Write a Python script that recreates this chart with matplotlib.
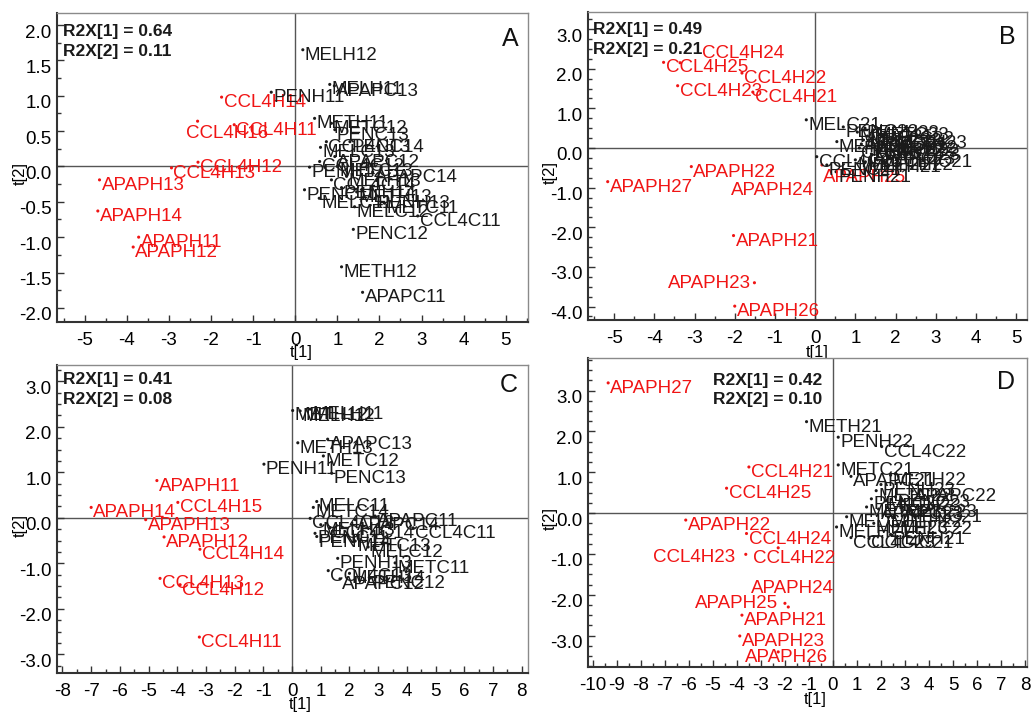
import matplotlib
matplotlib.use('Agg')
import matplotlib.pyplot as plt
from matplotlib.ticker import MultipleLocator
from matplotlib.transforms import ScaledTranslation

plt.rcParams['font.family'] = ['Liberation Sans', 'DejaVu Sans']
plt.rcParams['axes.unicode_minus'] = False

# ---- Panel A : study 1, scores t[1] / t[2]
a_names = ['CCL4H14', 'CCL4H16', 'CCL4H11', 'CCL4H12', 'CCL4H13',
           'APAPH13', 'APAPH14', 'APAPH11', 'APAPH12',
           'MELH12', 'PENH11', 'MELH11', 'APAPC13', 'METH11', 'METC12',
           'PENC13', 'CCL4C13', 'MELC13', 'APAPC12', 'CCL4C12', 'PENH12',
           'APAPC14', 'CCL4C14', 'MELH13', 'PENC11', 'METH13', 'MELC11',
           'PENH13', 'METC11', 'MELC12', 'CCL4C11', 'PENC12', 'METH12',
           'APAPC11', 'PENH14', 'METC13', 'PENC14']
a_t1 = [-1.75, -2.32, -1.45, -2.31, -2.94,
        -4.65, -4.69, -3.72, -3.85,
        0.18, -0.57, 0.82, 0.93, 0.46, 0.86,
        0.94, 0.74, 0.60, 0.94, 0.58, 0.34,
        1.84, 0.86, 1.22, 0.22, 1.46, 0.57,
        1.90, 2.12, 1.41, 2.91, 1.38, 1.10,
        1.60, 1.10, 1.00, 1.30]
a_t2 = [0.98, 0.64, 0.59, 0.06, -0.02,
        -0.19, -0.63, -1.00, -1.14,
        1.65, 1.05, 1.16, 1.14, 0.68, 0.61,
        0.52, 0.35, 0.27, 0.14, 0.07, -0.01,
        -0.08, -0.19, -0.14, -0.33, -0.36, -0.45,
        -0.45, -0.52, -0.57, -0.70, -0.89, -1.42,
        -1.78, -0.30, 0.00, 0.35]

# ---- Panel B : study 2
b_names = ['CCL4H24', 'CCL4H25', 'CCL4H22', 'CCL4H23', 'CCL4H21',
           'APAPH22', 'APAPH27', 'APAPH24', 'APAPH21', 'APAPH23',
           'APAPH26', 'APAPH25',
           'MELC21', 'PENC22', 'METC22', 'CCL4C23', 'PENC21', 'PENH23',
           'MELH22', 'CCL4C21', 'PENH21', 'APAPC21', 'APAPC22', 'APAPC23',
           'CCL4C22', 'MELC22', 'MELC23', 'MELH21', 'MELH23', 'METC21',
           'METC23', 'METH21', 'METH22', 'METH23', 'PENC23', 'PENH22']
b_t1 = [-3.36, -3.77, -1.82, -3.42, -1.55,
        -3.08, -5.16, -1.09, -2.03, -1.51,
        -2.00, 0.17,
        -0.22, 0.70, 0.54, 0.04, 0.29, 1.24,
        1.67, 1.82, 0.52, 1.20, 1.50, 1.40,
        1.10, 1.60, 1.30, 1.00, 1.75, 1.05,
        1.45, 1.25, 1.55, 1.90, 1.15, 1.35]
b_t2 = [2.15, 2.16, 1.89, 1.57, 1.41,
        -0.47, -0.85, -0.56, -2.21, -3.40,
        -3.99, -0.43,
        0.71, 0.53, 0.16, -0.22, -0.43, 0.50,
        0.13, -0.23, -0.60, 0.20, 0.05, -0.15,
        0.00, 0.35, 0.30, -0.30, -0.05, 0.40,
        0.45, -0.35, -0.30, 0.25, 0.10, 0.05]

# ---- Panel C : study 1, second model
c_names = ['APAPH11', 'CCL4H15', 'APAPH14', 'APAPH13', 'APAPH12',
           'CCL4H14', 'CCL4H13', 'CCL4H12', 'CCL4H11',
           'METH12', 'MELH12', 'MELH11', 'METH13', 'APAPC13', 'METC12',
           'PENH11', 'PENC13', 'MELC11', 'METC14', 'CCL4C12', 'APAPC11',
           'APAPC14', 'CCL4C11', 'PENC11', 'PENH14', 'METC13', 'MELC12',
           'PENH13', 'METC11', 'CCL4C13', 'APAPC12', 'PENC12', 'MELH13',
           'CCL4C14', 'METH14']
c_t1 = [-4.71, -3.98, -7.00, -5.10, -4.46,
        -3.21, -4.60, -3.90, -3.23,
        0.02, 0.28, 0.63, 0.20, 1.24, 1.09,
        -0.98, 1.38, 0.86, 0.74, 0.63, 2.89,
        2.20, 4.22, 0.80, 0.86, 2.20, 2.65,
        1.59, 3.59, 1.26, 1.67, 2.72, 1.00,
        1.32, 2.00]
c_t2 = [0.82, 0.34, 0.23, -0.04, -0.42,
        -0.69, -1.33, -1.47, -2.62,
        2.36, 2.35, 2.39, 1.65, 1.73, 1.36,
        1.18, 0.98, 0.36, 0.23, -0.01, 0.04,
        -0.04, -0.22, -0.34, -0.41, -0.51, -0.64,
        -0.89, -0.99, -1.16, -1.34, -1.32, -0.15,
        -0.22, -1.22]

# ---- Panel D : study 2, second model
d_names = ['APAPH27', 'CCL4H21', 'CCL4H25', 'APAPH22', 'CCL4H24',
           'CCL4H23', 'CCL4H22', 'APAPH24', 'APAPH25', 'APAPH21',
           'APAPH23', 'APAPH26',
           'METH21', 'PENH22', 'CCL4C22', 'METC21', 'APAPC21', 'METH22',
           'APAPC22', 'MELC21', 'MELH21', 'PENC21', 'MELC22', 'PENH21',
           'CCL4C23', 'CCL4C21', 'METC22', 'METH23', 'PENC22', 'PENC23',
           'APAPC23', 'MELH22', 'MELH23', 'MELC23', 'METC23', 'PENH23']
d_t1 = [-9.36, -3.50, -4.43, -6.13, -3.60,
        -3.63, -2.28, -1.86, -2.00, -3.79,
        -3.88, -2.28,
        -1.10, 0.22, 2.03, 0.22, 0.75, 2.40,
        3.30, 0.57, 0.15, 3.10, 2.70, 2.40,
        0.75, 1.50, 1.80, 2.20, 1.60, 2.60,
        1.90, 2.30, 1.70, 2.90, 1.40, 2.00]
d_t2 = [3.19, 1.13, 0.61, -0.17, -0.50,
        -1.01, -0.85, -2.30, -2.21, -2.50,
        -3.01, -3.40,
        2.24, 1.86, 1.63, 1.18, 0.90, 0.93,
        0.54, -0.09, -0.34, 0.02, -0.27, -0.52,
        -0.60, -0.62, 0.55, 0.30, 0.35, 0.40,
        0.10, -0.10, -0.25, 0.15, 0.15, 0.70]

r2x = {'A': (0.64, 0.11), 'B': (0.49, 0.21), 'C': (0.41, 0.08), 'D': (0.42, 0.10)}

# labels that SIMCA put somewhere other than right of the dot: (dx px, dy px, ha)
label_moves = {
    ('A', 'CCL4H16'): (-12, -4, 'left'),
    ('B', 'CCL4H24'): (22, 18, 'left'),
    ('B', 'APAPH24'): (-40, -12, 'left'),
    ('B', 'APAPH23'): (-3, 8, 'right'),
    ('B', 'APAPH25'): (1, -4, 'left'),
    ('D', 'CCL4H23'): (-11, 5, 'right'),
    ('D', 'CCL4H22'): (-25, -2, 'left'),
    ('D', 'APAPH25'): (-7, 8, 'right'),
    ('D', 'APAPH24'): (-37, 27, 'left'),
    ('D', 'APAPH26'): (-33, 3, 'left'),
}

W, H = 1033, 712
fig = plt.figure(figsize=(W / 100, H / 100), dpi=100)


def rect(l, t, r, b):
    return [l / W, 1 - b / H, (r - l) / W, (b - t) / H]


def panel(letter, box, names, t1, t2, xlim, ylim, xticks, yticks,
          r2x_pos, letter_pos, ylab_x, xlab_pos):
    ax = fig.add_axes(rect(*box))
    ax.set_xlim(*xlim)
    ax.set_ylim(*ylim)
    ax.axhline(0, color='#555555', lw=1.0, zorder=0)
    ax.axvline(0, color='#555555', lw=1.0, zorder=0)

    cols = ['#f01414' if n[:5] in ('APAPH', 'CCL4H') else '#1a1a1a' for n in names]
    ax.scatter(t1, t2, s=5, c=cols, linewidths=0, zorder=3)
    for n, x, y, c in zip(names, t1, t2, cols):
        dx, dy, ha = label_moves.get((letter, n), (2, 3, 'left'))
        ax.annotate(n, (x, y), xytext=(dx, dy), textcoords='offset pixels',
                    ha=ha, va='top', fontsize=13.5, color=c,
                    annotation_clip=False, zorder=4)

    ax.set_xticks(xticks, [f'{v:d}' for v in xticks])
    ax.set_yticks(yticks, [f'{v:.1f}' for v in yticks])
    ax.xaxis.set_minor_locator(MultipleLocator(0.5))
    ax.yaxis.set_minor_locator(MultipleLocator(0.25))
    ax.tick_params(which='both', direction='in', top=False, right=False,
                   width=1.0, color='#333333', labelsize=13.5)
    ax.tick_params(which='major', length=5)
    ax.tick_params(which='minor', length=3)
    ax.tick_params(axis='x', pad=7)
    ax.tick_params(axis='y', pad=4)
    # SIMCA draws y tick labels a little below their tick
    for lab in ax.get_yticklabels():
        lab.set_transform(lab.get_transform() +
                          ScaledTranslation(0, -0.06, fig.dpi_scale_trans))

    for s in ('left', 'bottom'):
        ax.spines[s].set_color('#333333')
        ax.spines[s].set_linewidth(1.5)
    for s in ('top', 'right'):
        ax.spines[s].set_color('#8a8a8a')
        ax.spines[s].set_linewidth(1.0)

    ax.set_xlabel('t[1]', fontsize=12)
    ax.xaxis.set_label_coords(*xlab_pos)
    ax.set_ylabel('t[2]', fontsize=12)
    ax.yaxis.set_label_coords(ylab_x, 0.48)

    v1, v2 = r2x[letter]
    ax.text(r2x_pos[0], r2x_pos[1], f'R2X[1] = {v1:.2f}\nR2X[2] = {v2:.2f}',
            transform=ax.transAxes, ha='left', va='top', fontsize=12.5,
            fontweight='bold', color='#1a1a1a', linespacing=1.4)
    ax.text(letter_pos[0], letter_pos[1], letter, transform=ax.transAxes,
            ha='right', va='top', fontsize=18, color='#111111')
    return ax


panel('A', (57, 13, 528, 322), a_names, a_t1, a_t2,
      (-5.66, 5.53), (-2.2, 2.17), list(range(-5, 6)),
      [-2.0, -1.5, -1.0, -0.5, 0.0, 0.5, 1.0, 1.5, 2.0],
      (0.013, 0.963), (0.979, 0.955), -0.062, (0.518, -0.074))
panel('B', (588, 12, 1027, 320), b_names, b_t1, b_t2,
      (-5.65, 5.27), (-4.34, 3.43), list(range(-5, 6)),
      [-4.0, -3.0, -2.0, -1.0, 0.0, 1.0, 2.0, 3.0],
      (0.011, 0.966), (0.973, 0.958), -0.068, (0.522, -0.081))
panel('C', (57, 365, 528, 673), c_names, c_t1, c_t2,
      (-8.19, 8.22), (-3.41, 3.36), list(range(-8, 9)),
      [-3.0, -2.0, -1.0, 0.0, 1.0, 2.0, 3.0],
      (0.013, 0.976), (0.979, 0.974), -0.062, (0.516, -0.078))
panel('D', (588, 358, 1027, 667), d_names, d_t1, d_t2,
      (-10.2, 8.08), (-3.77, 3.8), list(range(-10, 9)),
      [-3.0, -2.0, -1.0, 0.0, 1.0, 2.0, 3.0],
      (0.285, 0.953), (0.973, 0.961), -0.068, (0.517, -0.081))

fig.savefig('out.png', dpi=100)
